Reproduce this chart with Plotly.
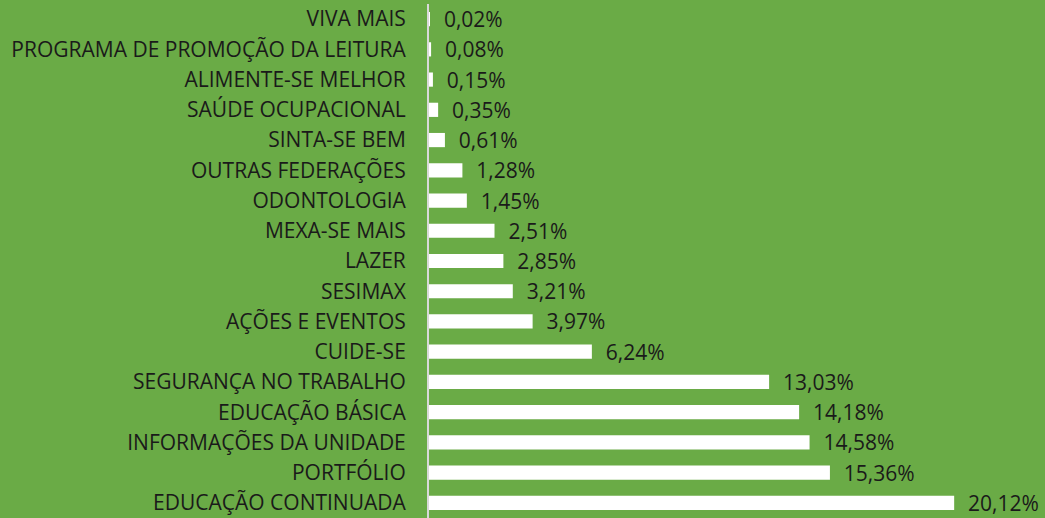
import plotly.graph_objects as go

categories = ["VIVA MAIS", "PROGRAMA DE PROMOÇÃO DA LEITURA", "ALIMENTE-SE MELHOR",
              "SAÚDE OCUPACIONAL", "SINTA-SE BEM", "OUTRAS FEDERAÇÕES", "ODONTOLOGIA",
              "MEXA-SE MAIS", "LAZER", "SESIMAX", "AÇÕES E EVENTOS", "CUIDE-SE",
              "SEGURANÇA NO TRABALHO", "EDUCAÇÃO BÁSICA", "INFORMAÇÕES DA UNIDADE",
              "PORTFÓLIO", "EDUCAÇÃO CONTINUADA"]
values = [0.02, 0.08, 0.15, 0.35, 0.61, 1.28, 1.45, 2.51, 2.85, 3.21, 3.97, 6.24,
          13.03, 14.18, 14.58, 15.36, 20.12]
labels = ["  " + f"{v:.2f}".replace(".", ",") + "%" for v in values]

FONT = "Open Sans"
fig = go.Figure(go.Bar(
    x=values, y=categories, orientation="h",
    marker=dict(color="white", line=dict(width=0)),
    text=labels, textposition="outside", cliponaxis=False, constraintext="none",
    textfont=dict(family=FONT, size=21, color="#1a1a1a"),
))
fig.update_layout(
    width=1045, height=518,
    margin=dict(l=429, r=0, t=4, b=0),
    paper_bgcolor="#6aab46", plot_bgcolor="#6aab46",
    bargap=0.53, showlegend=False,
    font=dict(family=FONT, size=21, color="#1a1a1a"),
)
fig.update_xaxes(range=[0, 23.6], visible=False, showgrid=False)
fig.update_yaxes(autorange="reversed", showgrid=False, showline=True,
                 linecolor="#d9d9d9", linewidth=2, ticks="",
                 ticklabelstandoff=17, tickfont=dict(family=FONT, size=21, color="#1a1a1a"))
fig.write_html("out.html", config={"displayModeBar": False},
               post_script="document.body.style.margin='0';")
